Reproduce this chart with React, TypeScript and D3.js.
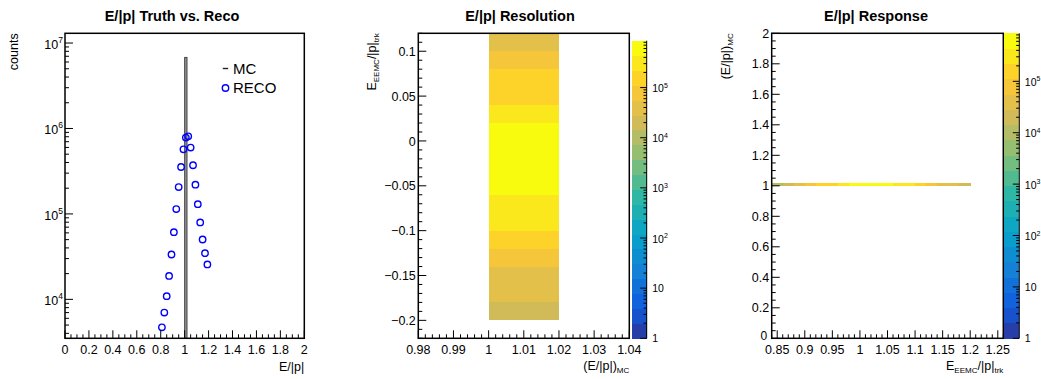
import React from 'react';
import * as d3 from 'd3';

const FONT = "'Liberation Sans', Arial, Helvetica, sans-serif";

// ---------- Data ----------
// Left: E/|p| truth vs reco
const mcBinLow = [1.0];
const mcBinHigh = [1.02];
const mcCounts = [6.8e6];
const recoX = [0.81, 0.83, 0.85, 0.87, 0.89, 0.91, 0.93, 0.95, 0.97, 0.99, 1.01, 1.03, 1.05, 1.07, 1.09, 1.11, 1.13, 1.15, 1.17, 1.19];
const recoCounts = [4700, 7000, 10900, 18800, 33500, 61200, 114000, 206000, 354000, 570000, 782000, 810000, 597000, 371000, 220000, 130000, 79500, 50200, 34700, 25600];

// Middle: resolution (one x column, y bins)
const resXLow = 1.0;
const resXHigh = 1.02;
const resYLow = [-0.2, -0.18, -0.16, -0.14, -0.12, -0.1, -0.08, -0.06, -0.04, -0.02, 0.0, 0.02, 0.04, 0.06, 0.08, 0.1];
const resCounts = [22000, 40000, 48000, 80000, 160000, 280000, 380000, 560000, 700000, 800000, 780000, 330000, 190000, 170000, 90000, 45000];

// Right: response (one y row, x bins)
const respXLow = [0.8, 0.82, 0.84, 0.86, 0.88, 0.9, 0.92, 0.94, 0.96, 0.98, 1.0, 1.02, 1.04, 1.06, 1.08, 1.1, 1.12, 1.14, 1.16, 1.18];
const respCounts = [4700, 7000, 10900, 18800, 33500, 61200, 114000, 206000, 354000, 570000, 782000, 810000, 597000, 371000, 220000, 130000, 79500, 50200, 34700, 25600];
const respYLow = 1.0;
const respYHigh = 1.02;

// Ticks
const leftXTicks = [0, 0.2, 0.4, 0.6, 0.8, 1, 1.2, 1.4, 1.6, 1.8, 2];
const leftXLabels = ['0', '0.2', '0.4', '0.6', '0.8', '1', '1.2', '1.4', '1.6', '1.8', '2'];
const leftYExps = [4, 5, 6, 7];
const midXTicks = [0.98, 0.99, 1, 1.01, 1.02, 1.03, 1.04];
const midXLabels = ['0.98', '0.99', '1', '1.01', '1.02', '1.03', '1.04'];
const midYTicks = [-0.2, -0.15, -0.1, -0.05, 0, 0.05, 0.1];
const midYLabels = ['\u22120.2', '\u22120.15', '\u22120.1', '\u22120.05', '0', '0.05', '0.1'];
const rightXTicks = [0.85, 0.9, 0.95, 1, 1.05, 1.1, 1.15, 1.2, 1.25];
const rightXLabels = ['0.85', '0.9', '0.95', '1', '1.05', '1.1', '1.15', '1.2', '1.25'];
const rightYTicks = [0, 0.2, 0.4, 0.6, 0.8, 1, 1.2, 1.4, 1.6, 1.8, 2];
const rightYLabels = ['0', '0.2', '0.4', '0.6', '0.8', '1', '1.2', '1.4', '1.6', '1.8', '2'];
const zExps = [0, 1, 2, 3, 4, 5];
const Z_MAX = 8.6e5;
const N_CONT = 20;

// ---------- Palette (ROOT kBird) ----------
const birdStops = [0, 0.125, 0.25, 0.375, 0.5, 0.625, 0.75, 0.875, 1];
const birdR = [0.2082, 0.0592, 0.078, 0.0232, 0.1802, 0.5301, 0.8186, 0.9956, 0.9764];
const birdG = [0.1664, 0.3599, 0.5041, 0.6419, 0.7178, 0.7492, 0.7328, 0.7862, 0.9832];
const birdB = [0.5293, 0.8684, 0.8385, 0.7914, 0.6425, 0.4662, 0.3499, 0.1968, 0.0539];
const bird = (t: number) => {
  const r = d3.scaleLinear().domain(birdStops).range(birdR).clamp(true)(t);
  const g = d3.scaleLinear().domain(birdStops).range(birdG).clamp(true)(t);
  const b = d3.scaleLinear().domain(birdStops).range(birdB).clamp(true)(t);
  return d3.rgb(r * 255, g * 255, b * 255).formatHex();
};
const bandColor = (i: number) => {
  const idx = Math.min(254, Math.floor(((i + 0.99) * 255) / N_CONT));
  return bird(idx / 254);
};
const valueBand = (v: number) => {
  const w = Math.log10(Z_MAX) / N_CONT;
  return Math.max(0, Math.min(N_CONT - 1, Math.floor(Math.log10(v) / w)));
};

// ---------- Helpers ----------
const MAJ = 8;
const MIN = 4;

function linXAxis(scale: any, y: number, ticks: number[], labels: string[], nSub: number, key: string) {
  const els: any[] = [];
  const [d0, d1] = scale.domain();
  const step = ticks[1] - ticks[0];
  const sub = step / nSub;
  for (let k = -nSub * 2; k <= ticks.length * nSub + nSub * 2; k++) {
    if (k % nSub === 0) continue;
    const v = ticks[0] + k * sub;
    if (v < d0 - 1e-9 || v > d1 + 1e-9) continue;
    els.push(<line key={key + 'm' + k} x1={scale(v)} x2={scale(v)} y1={y} y2={y - MIN} stroke="#000" strokeWidth={1} />);
  }
  ticks.forEach((t, i) => {
    els.push(<line key={key + 'M' + i} x1={scale(t)} x2={scale(t)} y1={y} y2={y - MAJ} stroke="#000" strokeWidth={1} />);
    els.push(
      <text key={key + 'L' + i} x={scale(t)} y={y + 15.5} textAnchor="middle" fontSize={12.5} fontFamily={FONT} fill="#000">
        {labels[i]}
      </text>
    );
  });
  return els;
}

function linYAxis(scale: any, x: number, ticks: number[], labels: string[], nSub: number, key: string) {
  const els: any[] = [];
  const [d0, d1] = scale.domain();
  const step = ticks[1] - ticks[0];
  const sub = step / nSub;
  for (let k = -nSub * 2; k <= ticks.length * nSub + nSub * 2; k++) {
    if (k % nSub === 0) continue;
    const v = ticks[0] + k * sub;
    if (v < d0 - 1e-9 || v > d1 + 1e-9) continue;
    els.push(<line key={key + 'm' + k} x1={x} x2={x + MIN} y1={scale(v)} y2={scale(v)} stroke="#000" strokeWidth={1} />);
  }
  ticks.forEach((t, i) => {
    els.push(<line key={key + 'M' + i} x1={x} x2={x + MAJ} y1={scale(t)} y2={scale(t)} stroke="#000" strokeWidth={1} />);
    // lowest label sits a little higher/left so it does not collide with the x labels
    const atBottom = Math.abs(t - d0) < 1e-9;
    els.push(
      <text
        key={key + 'L' + i}
        x={x - (atBottom ? 4.5 : 2.5)}
        y={scale(t) + (atBottom ? 2 : 4.6)}
        textAnchor="end"
        fontSize={atBottom ? 12 : 12.5}
        fontFamily={FONT}
        fill="#000"
      >
        {labels[i]}
      </text>
    );
  });
  return els;
}

function ColorBar({ x0, x1, y0, y1, id }: { x0: number; x1: number; y0: number; y1: number; id: string }) {
  const z = d3.scaleLog().domain([1, Z_MAX]).range([y1, y0]);
  const w = Math.log10(Z_MAX) / N_CONT;
  const bands = d3.range(N_CONT).map((i) => {
    const top = z(Math.pow(10, (i + 1) * w));
    const bot = z(Math.pow(10, i * w));
    return <rect key={id + 'b' + i} x={x0} y={top} width={x1 - x0} height={bot - top + 0.4} fill={bandColor(i)} shapeRendering="crispEdges" />;
  });
  const ticks: any[] = [];
  zExps.forEach((e) => {
    for (let m = 1; m <= 9; m++) {
      const v = m * Math.pow(10, e);
      if (v > Z_MAX) continue;
      const len = m === 1 ? 6.5 : 3.2;
      ticks.push(<line key={id + 't' + e + m} x1={x1} x2={x1 - len} y1={z(v)} y2={z(v)} stroke="#000" strokeWidth={1} />);
    }
  });
  const labels = zExps.map((e) => {
    const y = z(Math.pow(10, e));
    if (e === 0)
      return (
        <text key={id + 'l' + e} x={x1 + 5.5} y={y + 4} fontSize={10.5} fontFamily={FONT}>
          1
        </text>
      );
    if (e === 1)
      return (
        <text key={id + 'l' + e} x={x1 + 5.5} y={y + 4} fontSize={10.5} fontFamily={FONT}>
          10
        </text>
      );
    return (
      <text key={id + 'l' + e} x={x1 + 5.5} y={y + 4.5} fontSize={10.5} fontFamily={FONT}>
        10<tspan dy={-4.5} fontSize={7}>{e}</tspan>
      </text>
    );
  });
  return (
    <g>
      {bands}
      <line x1={x1} x2={x1} y1={y0} y2={y1} stroke="#000" strokeWidth={1} />
      {ticks}
      {labels}
    </g>
  );
}

// ---------- Panels ----------
function LeftPanel() {
  const x0 = 65, x1 = 304.3, y0 = 33.3, y1 = 338.3;
  const xs = d3.scaleLinear().domain([0, 2]).range([x0, x1]);
  const ys = d3.scaleLog().domain([3500, 1.3e7]).range([y1, y0]);
  const minorY: any[] = [];
  [3, 4, 5, 6, 7].forEach((e) => {
    for (let m = 1; m <= 9; m++) {
      const v = m * Math.pow(10, e);
      if (v < 3500 || v > 1.3e7) continue;
      const len = m === 1 ? MAJ : MIN;
      minorY.push(<line key={'ly' + e + m} x1={x0} x2={x0 + len} y1={ys(v)} y2={ys(v)} stroke="#000" strokeWidth={1} />);
    }
  });
  return (
    <g>
      <text x={172} y={20.5} textAnchor="middle" fontSize={14.5} fontWeight="bold" fontFamily={FONT}>
        E/|p| Truth vs. Reco
      </text>
      <clipPath id="clipL">
        <rect x={x0} y={y0} width={x1 - x0} height={y1 - y0} />
      </clipPath>
      <g clipPath="url(#clipL)">
        {mcCounts.map((c, i) => (
          <rect key={'mc' + i} x={xs(mcBinLow[i])} y={ys(c)} width={xs(mcBinHigh[i]) - xs(mcBinLow[i])} height={y1 - ys(c)} fill="#8c8c8c" stroke="#333" strokeWidth={0.8} />
        ))}
        {recoCounts.map((c, i) => (
          <circle key={'rc' + i} cx={xs(recoX[i])} cy={ys(c)} r={3.2} fill="none" stroke="#0000ff" strokeWidth={1.4} />
        ))}
      </g>
      <rect x={x0} y={y0} width={x1 - x0} height={y1 - y0} fill="none" stroke="#000" strokeWidth={1.5} />
      {linXAxis(xs, y1, leftXTicks, leftXLabels, 4, 'lx')}
      {minorY}
      {leftYExps.map((e) => (
        <text key={'lyl' + e} x={x0 - 2} y={ys(Math.pow(10, e)) + 6} textAnchor="end" fontSize={12.5} fontFamily={FONT}>
          10<tspan dy={-6} fontSize={8.5}>{e}</tspan>
        </text>
      ))}
      <text transform={`translate(18,33.3) rotate(-90)`} textAnchor="end" fontSize={12.5} fontFamily={FONT}>
        counts
      </text>
      <text x={x1} y={370.5} textAnchor="end" fontSize={12.5} fontFamily={FONT}>
        E/|p|
      </text>
      {/* legend */}
      <line x1={222.8} x2={228.2} y1={68.5} y2={68.5} stroke="#222" strokeWidth={1.4} />
      <text x={233} y={74} fontSize={15} fontFamily={FONT}>
        MC
      </text>
      <circle cx={225.5} cy={88} r={3.2} fill="none" stroke="#0000ff" strokeWidth={1.4} />
      <text x={233} y={92.7} fontSize={15} fontFamily={FONT}>
        RECO
      </text>
    </g>
  );
}

function MiddlePanel() {
  const x0 = 418.3, x1 = 629.3, y0 = 33.3, y1 = 338.3;
  const xs = d3.scaleLinear().domain([0.98, 1.04]).range([x0, x1]);
  const ys = d3.scaleLinear().domain([-0.22, 0.12]).range([y1, y0]);
  return (
    <g>
      <text x={520} y={20.5} textAnchor="middle" fontSize={14.5} fontWeight="bold" fontFamily={FONT}>
        E/|p| Resolution
      </text>
      <clipPath id="clipM">
        <rect x={x0} y={y0} width={x1 - x0} height={y1 - y0} />
      </clipPath>
      <g clipPath="url(#clipM)">
        {resCounts.map((c, i) => {
          const top = ys(resYLow[i] + 0.02);
          const bot = ys(resYLow[i]);
          return (
            <rect key={'rb' + i} x={xs(resXLow)} y={top} width={xs(resXHigh) - xs(resXLow)} height={bot - top} fill={bandColor(valueBand(c))} shapeRendering="crispEdges" />
          );
        })}
      </g>
      <rect x={x0} y={y0} width={x1 - x0} height={y1 - y0} fill="none" stroke="#000" strokeWidth={1.5} />
      {linXAxis(xs, y1, midXTicks, midXLabels, 5, 'mx')}
      {linYAxis(ys, x0, midYTicks, midYLabels, 5, 'my')}
      <text transform={`translate(376,33.3) rotate(-90)`} textAnchor="end" fontSize={12.5} fontFamily={FONT}>
        E<tspan dy={3} fontSize={8}>EEMC</tspan>
        <tspan dy={-3} fontSize={12.5}>/|p|</tspan>
        <tspan dy={3} fontSize={8}>trk</tspan>
      </text>
      <text x={x1} y={369.5} textAnchor="end" fontSize={12.5} fontFamily={FONT}>
        (E/|p|)<tspan dy={3} fontSize={8}>MC</tspan>
      </text>
      <ColorBar x0={631.7} x1={646.7} y0={40.7} y1={338.3} id="cbm" />
    </g>
  );
}

function RightPanel() {
  const x0 = 771.7, x1 = 1003.3, y0 = 33.3, y1 = 338.3;
  const xs = d3.scaleLinear().domain([0.84, 1.26]).range([x0, x1]);
  const ys = d3.scaleLinear().domain([0, 2]).range([y1, y0]);
  return (
    <g>
      <text x={876} y={20.5} textAnchor="middle" fontSize={14.5} fontWeight="bold" fontFamily={FONT}>
        E/|p| Response
      </text>
      <clipPath id="clipR">
        <rect x={x0} y={y0} width={x1 - x0} height={y1 - y0} />
      </clipPath>
      <g clipPath="url(#clipR)">
        {respCounts.map((c, i) => {
          const top = ys(respYHigh);
          const bot = ys(respYLow);
          return (
            <rect key={'pb' + i} x={xs(respXLow[i])} y={top} width={xs(respXLow[i] + 0.02) - xs(respXLow[i]) + 0.3} height={bot - top} fill={bandColor(valueBand(c))} shapeRendering="crispEdges" />
          );
        })}
      </g>
      <rect x={x0} y={y0} width={x1 - x0} height={y1 - y0} fill="none" stroke="#000" strokeWidth={1.5} />
      {linXAxis(xs, y1, rightXTicks, rightXLabels, 5, 'rx')}
      {linYAxis(ys, x0, rightYTicks, rightYLabels, 4, 'ry')}
      <text transform={`translate(730,33.3) rotate(-90)`} textAnchor="end" fontSize={12.5} fontFamily={FONT}>
        (E/|p|)<tspan dy={3} fontSize={8}>MC</tspan>
      </text>
      <text x={x1} y={369.5} textAnchor="end" fontSize={12.5} fontFamily={FONT}>
        E<tspan dy={3} fontSize={8}>EEMC</tspan>
        <tspan dy={-3} fontSize={12.5}>/|p|</tspan>
        <tspan dy={3} fontSize={8}>trk</tspan>
      </text>
      <ColorBar x0={1004} x1={1019.3} y0={33.3} y1={338.3} id="cbr" />
    </g>
  );
}

export default function App() {
  return (
    <svg
      width={1041}
      height={379}
      viewBox="0 0 1041 379"
      style={{ position: 'absolute', left: 0, top: 0, background: '#fff', fontFamily: FONT }}
    >
      <rect x={0} y={0} width={1041} height={379} fill="#fff" />
      <LeftPanel />
      <MiddlePanel />
      <RightPanel />
    </svg>
  );
}
